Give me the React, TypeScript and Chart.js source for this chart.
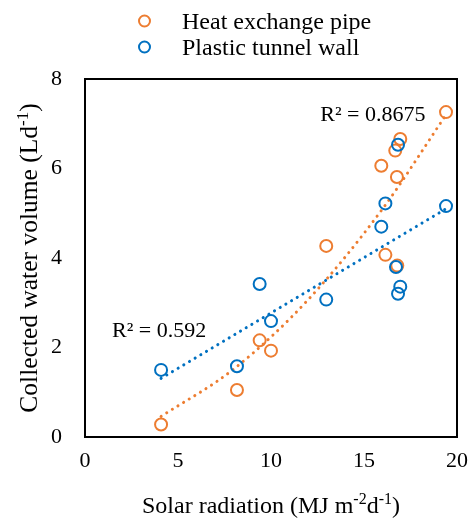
import React, { useEffect, useRef } from 'react';
import { Chart, registerables } from 'chart.js';

Chart.register(...registerables);

// ---- data ----
const seriesNames = ['Heat exchange pipe', 'Plastic tunnel wall'];
const heatX = [4.09, 8.17, 9.39, 10.0, 12.97, 15.93, 16.15, 16.79, 16.77, 16.68, 16.95, 19.41];
const heatY = [0.28, 1.05, 2.16, 1.93, 4.27, 6.06, 4.07, 3.83, 5.81, 6.4, 6.66, 7.26];
const wallX = [4.09, 8.17, 9.39, 10.0, 12.97, 15.93, 16.15, 16.83, 16.72, 16.95, 16.83, 19.41];
const wallY = [1.5, 1.58, 3.42, 2.59, 3.07, 4.7, 5.22, 6.53, 3.8, 3.36, 3.2, 5.16];
// trendlines (dotted curves)
const heatTrendX = [4.09, 8.0, 12.0, 16.0, 19.41];
const heatTrendY = [0.46, 1.52, 3.07, 5.1, 7.2];
const wallTrendX = [4.09, 19.41];
const wallTrendY = [1.31, 5.1];
const r2Labels = ['R\u00B2 = 0.8675', 'R\u00B2 = 0.592'];
const xTicks = [0, 5, 10, 15, 20];
const yTicks = [0, 2, 4, 6, 8];

// ---- styles / layout ----
const ORANGE = '#ED7D31';
const BLUE = '#0070C0';
const FONT = '"Liberation Serif", "Times New Roman", serif';
const W = 464;
const H = 510;
// R² label anchors in data coordinates (left, baseline)
const r2Anchors = [
  { x: 12.65, y: 7.06 },
  { x: 1.45, y: 2.235 },
];

type Pt = { x: number; y: number };

function zip(xs: number[], ys: number[]): Pt[] {
  return xs.map((x, i) => ({ x, y: ys[i] }));
}

type Part = { t: string; sup?: boolean };

function drawRich(ctx: CanvasRenderingContext2D, parts: Part[], x: number, y: number, size: number, center: boolean) {
  const supSize = Math.round(size * 0.66);
  const widths = parts.map((p) => {
    ctx.font = `${p.sup ? supSize : size}px ${FONT}`;
    return ctx.measureText(p.t).width;
  });
  const total = widths.reduce((a, v) => a + v, 0);
  let cx = center ? x - total / 2 : x;
  ctx.textAlign = 'left';
  ctx.textBaseline = 'alphabetic';
  parts.forEach((p, i) => {
    ctx.font = `${p.sup ? supSize : size}px ${FONT}`;
    ctx.fillText(p.t, cx, p.sup ? y - size * 0.36 : y);
    cx += widths[i];
  });
}

const overlayPlugin = {
  id: 'overlay',
  beforeDatasetsDraw(chart: any) {
    const { ctx, chartArea: a } = chart;
    ctx.save();
    ctx.strokeStyle = '#000';
    ctx.lineWidth = 2;
    ctx.strokeRect(a.left, a.top, a.right - a.left, a.bottom - a.top);
    ctx.restore();
  },
  afterDraw(chart: any) {
    const { ctx, chartArea: a, scales } = chart;
    ctx.save();
    ctx.fillStyle = '#000';

    // legend
    const colors = [ORANGE, BLUE];
    const legendY = [13, 39];
    seriesNames.forEach((name, i) => {
      ctx.beginPath();
      ctx.strokeStyle = colors[i];
      ctx.lineWidth = 2;
      ctx.arc(136.5, legendY[i], 5.5, 0, Math.PI * 2);
      ctx.stroke();
      ctx.fillStyle = '#000';
      ctx.font = `24px ${FONT}`;
      ctx.textAlign = 'left';
      ctx.textBaseline = 'alphabetic';
      ctx.fillText(name, 174, legendY[i] + 8);
    });

    // R² labels
    r2Labels.forEach((label, i) => {
      const px = scales.x.getPixelForValue(r2Anchors[i].x);
      const py = scales.y.getPixelForValue(r2Anchors[i].y);
      ctx.font = `22px ${FONT}`;
      ctx.textAlign = 'left';
      ctx.textBaseline = 'alphabetic';
      ctx.fillText(label, px, py);
    });

    // x axis title
    drawRich(
      ctx,
      [{ t: 'Solar radiation (MJ m' }, { t: '-2', sup: true }, { t: 'd' }, { t: '-1', sup: true }, { t: ')' }],
      (a.left + a.right) / 2,
      505,
      24,
      true
    );

    // y axis title
    ctx.save();
    ctx.translate(29, (a.top + a.bottom) / 2);
    ctx.rotate(-Math.PI / 2);
    drawRich(ctx, [{ t: 'Collected water volume (Ld' }, { t: '-1', sup: true }, { t: ')' }], 0, 0, 25.5, true);
    ctx.restore();

    ctx.restore();
  },
};

export default function App() {
  const ref = useRef<HTMLCanvasElement | null>(null);

  useEffect(() => {
    if (!ref.current) return;

    const chart = new Chart(ref.current, {
      type: 'scatter',
      data: {
        datasets: [
          {
            label: seriesNames[1],
            data: zip(wallX, wallY),
            borderColor: BLUE,
            backgroundColor: 'rgba(0,0,0,0)',
            pointRadius: 6,
            pointBorderWidth: 2,
            pointStyle: 'circle',
            order: 0,
          },
          {
            label: seriesNames[0],
            data: zip(heatX, heatY),
            borderColor: ORANGE,
            backgroundColor: 'rgba(0,0,0,0)',
            pointRadius: 6,
            pointBorderWidth: 2,
            pointStyle: 'circle',
            order: 1,
          },
          {
            label: 'wall trend',
            data: zip(wallTrendX, wallTrendY),
            showLine: true,
            borderColor: BLUE,
            borderWidth: 3,
            borderDash: [0.1, 6.5],
            borderCapStyle: 'round',
            pointRadius: 0,
            fill: false,
            order: 2,
          },
          {
            label: 'heat trend',
            data: zip(heatTrendX, heatTrendY),
            showLine: true,
            cubicInterpolationMode: 'monotone',
            borderColor: ORANGE,
            borderWidth: 3,
            borderDash: [0.1, 6.5],
            borderCapStyle: 'round',
            pointRadius: 0,
            fill: false,
            order: 3,
          },
        ] as any,
      },
      options: {
        responsive: false,
        animation: false,
        devicePixelRatio: 1,
        layout: { padding: { top: 71, right: 15, left: 0, bottom: 0 } },
        plugins: {
          legend: { display: false },
          tooltip: { enabled: false },
          title: { display: false },
        },
        scales: {
          x: {
            type: 'linear',
            min: 0,
            max: 20,
            afterBuildTicks: (s: any) => {
              s.ticks = xTicks.map((v) => ({ value: v }));
            },
            afterFit: (s: any) => {
              s.height = 81;
              s.paddingLeft = 0;
              s.paddingRight = 0;
            },
            grid: { display: false, drawTicks: false },
            border: { display: false },
            ticks: {
              padding: 11,
              color: '#000',
              font: { family: FONT, size: 22 },
              maxRotation: 0,
            },
          },
          y: {
            type: 'linear',
            min: 0,
            max: 8,
            afterBuildTicks: (s: any) => {
              s.ticks = yTicks.map((v) => ({ value: v }));
            },
            afterFit: (s: any) => {
              s.width = 77;
              s.paddingTop = 0;
              s.paddingBottom = 0;
            },
            grid: { display: false, drawTicks: false },
            border: { display: false },
            ticks: {
              padding: 23,
              color: '#000',
              font: { family: FONT, size: 22 },
            },
          },
        },
      } as any,
      plugins: [overlayPlugin],
    });
    return () => chart.destroy();
  }, []);

  return (
    <>
      <style>{`body{margin-right:0;}#root{width:${W}px;}`}</style>
      <canvas ref={ref} width={W} height={H} style={{ display: 'block', width: W, height: H }} />
    </>
  );
}
